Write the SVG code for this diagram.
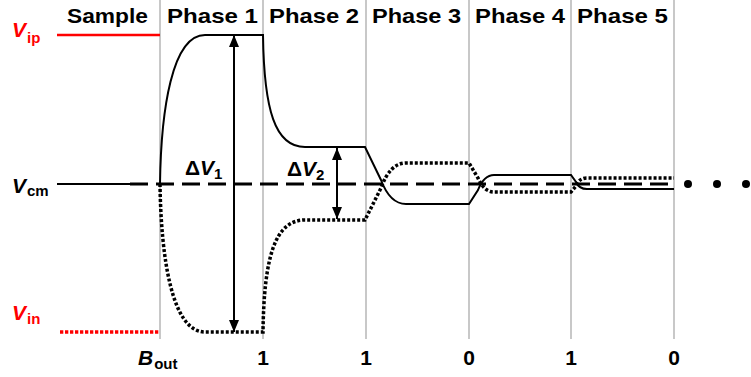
<svg xmlns="http://www.w3.org/2000/svg" width="751" height="377" viewBox="0 0 751 377">
<style>
text{font-family:"Liberation Sans",Arial,sans-serif;font-weight:bold;font-size:21px;fill:#000}
.red{fill:#ff0000}
.it{font-style:italic}
.sub{font-size:15px;font-style:normal}
.grid{stroke:#c8c8c8;stroke-width:2;fill:none}
.sol{stroke:#000;stroke-width:2;fill:none}
.dot{stroke:#000;stroke-width:3.5;fill:none;stroke-dasharray:3 2}
.dash{stroke:#000;stroke-width:3;fill:none;stroke-dasharray:18 8}
.arr{stroke:#000;stroke-width:2;fill:none;marker-start:url(#ah);marker-end:url(#ah)}
</style>
<defs>
<marker id="ah" viewBox="0 0 12 10" refX="12" refY="5" markerWidth="12" markerHeight="10" markerUnits="userSpaceOnUse" orient="auto-start-reverse">
<path d="M0,0 L12,5 L0,10 Z" fill="#000"/>
</marker>
</defs>
<rect width="751" height="377" fill="#fff"/>
<g id="grid">
<line class="grid" x1="160" y1="0" x2="160" y2="339"/>
<line class="grid" x1="263" y1="0" x2="263" y2="339"/>
<line class="grid" x1="366" y1="0" x2="366" y2="339"/>
<line class="grid" x1="469" y1="0" x2="469" y2="339"/>
<line class="grid" x1="571" y1="0" x2="571" y2="339"/>
<line class="grid" x1="674" y1="0" x2="674" y2="339"/>
</g>
<g id="headers">
<text x="67" y="23" textLength="81" lengthAdjust="spacingAndGlyphs">Sample</text>
<text x="167" y="23" textLength="91" lengthAdjust="spacingAndGlyphs">Phase 1</text>
<text x="269" y="23" textLength="90" lengthAdjust="spacingAndGlyphs">Phase 2</text>
<text x="372" y="23" textLength="89" lengthAdjust="spacingAndGlyphs">Phase 3</text>
<text x="475" y="23" textLength="90" lengthAdjust="spacingAndGlyphs">Phase 4</text>
<text x="577" y="23" textLength="91" lengthAdjust="spacingAndGlyphs">Phase 5</text>
</g>
<g id="vip">
<text class="red" x="12" y="37"><tspan class="it">V</tspan><tspan class="sub" dx="1" dy="6">ip</tspan></text>
<line x1="57" y1="35" x2="160" y2="35" stroke="#ff0000" stroke-width="2.5"/>
</g>
<g id="vcm">
<text x="12" y="193"><tspan class="it">V</tspan><tspan class="sub" dx="1" dy="3">cm</tspan></text>
<line x1="57" y1="184" x2="132" y2="184" stroke="#000" stroke-width="2"/>
</g>
<g id="vin">
<text class="red" x="12" y="320"><tspan class="it">V</tspan><tspan class="sub" dx="1" dy="4">in</tspan></text>
<line x1="60" y1="332" x2="160" y2="332" stroke="#ff0000" stroke-width="3.5" stroke-dasharray="3.3 1.7"/>
</g>
<g id="connectors">
<line class="dash" x1="130" y1="184" x2="674" y2="184"/>
<path class="sol" d="M160,184 C161,110 172,35 205,35 L263,35 C264,110 275,147 305,147 L365,147 L381,180 Q390,204 406,204 L469,204 L478,190 Q484,175 494,175 L571,175 L576,182 Q579,189 587,189 L674,189"/>
<path class="dot" d="M160,184 C161,258 172,332 205,332 L263,332 C264,257 275,220 305,220 L365,220 L381,188 Q390,163 406,163 L469,163 L478,178 Q484,192 494,192 L571,192 L576,186 Q579,178 587,178 L674,178"/>
<line class="arr" x1="234" y1="35" x2="234" y2="332"/>
<line class="arr" x1="337" y1="148" x2="337" y2="219"/>
</g>
<g id="deltas">
<text x="185" y="175">Δ<tspan class="it">V</tspan><tspan class="sub" dy="4">1</tspan></text>
<text x="287" y="176">Δ<tspan class="it">V</tspan><tspan class="sub" dy="4">2</tspan></text>
</g>
<g id="ellipsis">
<circle cx="688" cy="184" r="4"/>
<circle cx="717" cy="184" r="4"/>
<circle cx="746" cy="184" r="4"/>
</g>
<g id="bits">
<text x="138" y="365"><tspan class="it">B</tspan><tspan class="sub" dx="1" dy="4">out</tspan></text>
<text x="263" y="365" text-anchor="middle">1</text>
<text x="366" y="365" text-anchor="middle">1</text>
<text x="469" y="365" text-anchor="middle">0</text>
<text x="571" y="365" text-anchor="middle">1</text>
<text x="674" y="365" text-anchor="middle">0</text>
</g>
</svg>
